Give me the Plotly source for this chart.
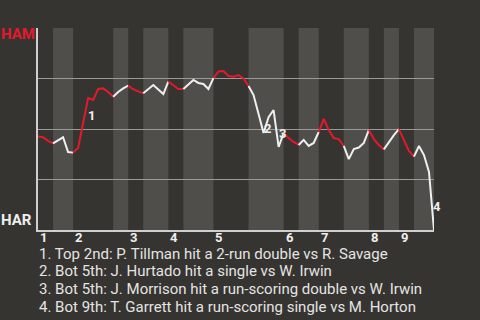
import plotly.graph_objects as go

# Win probability for HAM (percent) after each plate appearance (index 0..79)
wp = [46.3, 45.9, 44.1, 42.9, 44.6, 45.9, 38.6, 38.3, 40.6, 53.0,
      65.3, 64.4, 69.8, 70.1, 68.3, 66.0, 68.3, 70.1, 71.5, 69.7,
      68.6, 67.7, 69.6, 71.8, 69.6, 67.3, 73.5, 71.5, 69.8, 69.8,
      72.3, 74.3, 72.8, 72.3, 69.8, 75.2, 78.5, 78.7, 76.2, 75.9,
      76.7, 75.0, 71.3, 66.8, 57.4, 48.0, 55.9, 59.4, 41.1, 48.0,
      45.5, 43.6, 42.1, 44.6, 41.6, 43.1, 48.5, 55.0, 49.5, 45.5,
      45.0, 41.6, 35.1, 40.1, 40.8, 43.1, 49.5, 45.0, 42.1, 39.9,
      43.6, 47.0, 49.9, 44.6, 39.1, 36.3, 41.6, 37.1, 28.7, 0.0]

# Half-inning boundaries (in plate appearances)
half_bounds = [0, 3, 7, 15, 18, 21, 26, 29, 35, 42, 49, 52, 56, 61, 66, 69, 72, 75, 79]
inning_labels = ["1", "2", "3", "4", "5", "6", "7", "8", "9"]

# Key events: index of the PA ending the event, label
event_idx = [10, 45, 48, 79]
event_lbl = ["1", "2", "3", "4"]
notes = [
    "1. Top 2nd: P. Tillman hit a 2-run double vs R. Savage",
    "2. Bot 5th: J. Hurtado hit a single vs W. Irwin",
    "3. Bot 5th: J. Morrison hit a run-scoring double vs W. Irwin",
    "4. Bot 9th: T. Garrett hit a run-scoring single vs M. Horton",
]

BG = "#363430"
BAND = "#4f4e4b"
RED = "#e3192c"
WHITE = "#efefef"
FONT = "Roboto"

fig = go.Figure()

shapes = []
for h in range(len(half_bounds) - 1):
    a, b = half_bounds[h], half_bounds[h + 1]
    top = (h % 2 == 0)
    if not top:
        shapes.append(dict(type="rect", xref="x", yref="y", x0=a, x1=b, y0=0, y1=100,
                           fillcolor=BAND, line=dict(width=0), layer="below"))
    xs = list(range(a, b + 1))
    fig.add_trace(go.Scatter(x=xs, y=[wp[i] for i in xs], mode="lines",
                             line=dict(color=RED if top else WHITE, width=2),
                             hoverinfo="skip", showlegend=False))

annotations = []
for i, lab in enumerate(inning_labels):
    annotations.append(dict(x=half_bounds[2 * i], y=0, xref="x", yref="y", text="<b>%s</b>" % lab,
                            showarrow=False, xanchor="left", yanchor="middle", xshift=0, yshift=-7,
                            font=dict(family=FONT, size=13, color=WHITE)))

for k, lab in zip(event_idx, event_lbl):
    annotations.append(dict(x=k - 0.5, y=(wp[k - 1] + wp[k]) / 2, xref="x", yref="y",
                            text="<b>%s</b>" % lab, showarrow=False, xanchor="center",
                            yanchor="middle", xshift=6, yshift=-5,
                            font=dict(family=FONT, size=13, color=WHITE)))

annotations.append(dict(x=0, y=100, xref="paper", yref="y", text="<b>HAM</b>", showarrow=False,
                        xanchor="right", yanchor="middle", xshift=-1, yshift=-6,
                        font=dict(family=FONT, size=15, color=RED)))
annotations.append(dict(x=0, y=0, xref="paper", yref="y", text="<b>HAR</b>", showarrow=False,
                        xanchor="right", yanchor="middle", xshift=-4, yshift=10,
                        font=dict(family=FONT, size=15, color=WHITE)))

for j, t in enumerate(notes):
    annotations.append(dict(x=0, y=0, xref="paper", yref="paper", text=t, showarrow=False,
                            xanchor="left", yanchor="middle", xshift=-1, yshift=-23.5 - 17.8 * j,
                            font=dict(family=FONT, size=15, color="#e4e4e4")))

fig.update_layout(
    width=480, height=320,
    margin=dict(l=38, r=46, t=28, b=90),
    paper_bgcolor=BG, plot_bgcolor=BG,
    shapes=shapes, annotations=annotations,
    xaxis=dict(range=[0, 79], showgrid=False, zeroline=False, showticklabels=False, ticks="",
               showline=True, linecolor="#cfcfcf", linewidth=1.5),
    yaxis=dict(range=[0, 100], tickvals=[25, 50, 75, 100], showgrid=True, gridcolor="#9a9a9a",
               gridwidth=1, zeroline=False, showticklabels=False, ticks="",
               showline=True, linecolor="#cfcfcf", linewidth=1.5),
)

fig.write_html("out.html")
